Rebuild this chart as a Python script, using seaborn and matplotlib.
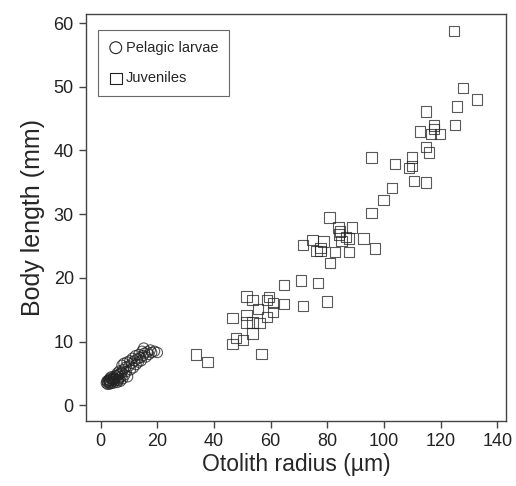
import numpy as np
import pandas as pd
import seaborn as sns
import matplotlib
matplotlib.use("Agg")
import matplotlib.pyplot as plt

# Juveniles (otolith radius µm, body length mm)
juv_radio = [124.8, 127.9, 132.7, 125.7, 114.8, 125.0, 117.7, 117.7, 112.7, 116.5,
             119.8, 114.8, 115.8, 95.6, 109.8, 103.9, 109.8, 108.8, 110.6, 114.8,
             102.7, 99.8, 95.6, 80.8, 83.9, 88.6, 84.5, 84.2, 86.6, 87.7,
             92.7, 85.0, 74.8, 78.6, 71.5, 77.6, 77.6, 76.2, 82.7, 87.7,
             96.7, 80.9, 70.7, 76.7, 64.7, 71.3, 79.8, 64.7, 51.5, 53.6,
             59.5, 58.8, 60.7, 60.7, 55.6, 58.8, 46.5, 51.5, 51.5, 53.6,
             56.0, 53.6, 47.7, 50.3, 46.5, 56.8, 33.6, 37.7]
juv_largo = [58.8, 49.8, 48.0, 46.9, 46.1, 44.0, 43.9, 43.4, 43.0, 42.6,
             42.6, 40.5, 39.7, 38.9, 38.9, 37.9, 37.6, 37.3, 35.2, 35.0,
             34.1, 32.2, 30.2, 29.5, 27.9, 27.9, 27.3, 26.8, 26.4, 26.2,
             26.2, 25.8, 26.0, 25.7, 25.2, 24.7, 24.2, 24.2, 24.1, 24.1,
             24.6, 22.3, 19.6, 19.2, 18.9, 15.6, 16.3, 15.9, 17.1, 16.5,
             17.0, 16.5, 16.1, 14.7, 15.1, 13.9, 13.7, 14.2, 13.0, 13.0,
             12.9, 11.3, 10.6, 10.3, 9.6, 8.1, 8.0, 6.8]

# Pelagic larvae
larv_radio = [2.0, 2.2, 2.5, 2.8, 3.0, 3.2, 3.5, 3.7, 4.0, 4.2,
              4.5, 4.6, 5.0, 5.2, 5.5, 5.8, 6.0, 6.2, 6.5, 6.8,
              7.0, 7.2, 7.5, 7.5, 7.8, 8.0, 8.2, 8.5, 8.8, 9.0,
              9.3, 9.5, 10.0, 10.3, 10.5, 11.0, 11.2, 11.5, 12.0, 12.3,
              12.5, 13.0, 13.3, 13.5, 14.0, 14.3, 14.6, 15.0, 15.2, 15.5,
              16.0, 16.5, 17.0, 17.5, 18.0, 19.0, 20.0, 2.4, 3.3, 4.4,
              5.3, 6.3, 3.8, 2.9, 4.8, 5.9, 6.6, 3.1]
larv_largo = [3.5, 3.8, 3.3, 4.0, 3.6, 3.9, 3.4, 4.2, 3.7, 4.0,
              3.5, 4.4, 3.8, 4.2, 4.6, 3.6, 4.0, 4.8, 4.3, 5.0,
              3.8, 4.5, 5.2, 6.3, 4.2, 5.6, 6.6, 4.8, 6.0, 5.3,
              6.8, 4.5, 6.2, 7.0, 5.6, 6.6, 7.4, 5.9, 7.0, 7.8,
              6.4, 7.3, 6.8, 8.0, 7.5, 7.0, 8.5, 7.8, 9.0, 8.2,
              7.6, 8.4, 8.0, 8.7, 8.3, 8.5, 8.3, 3.7, 4.3, 4.1,
              4.7, 3.9, 4.5, 3.9, 4.1, 5.1, 5.4, 3.4]

df = pd.concat([
    pd.DataFrame({"radio": larv_radio, "largo": larv_largo, "grupo": "Pelagic larvae"}),
    pd.DataFrame({"radio": juv_radio, "largo": juv_largo, "grupo": "Juveniles"}),
])

sns.set_theme(style="ticks")
plt.rcParams['font.family'] = ['Liberation Sans', 'DejaVu Sans']

fig = plt.figure(figsize=(5.16, 4.86), dpi=100)
ax = fig.add_axes([0.166, 0.133, 0.815, 0.838])

marcadores = {"Pelagic larvae": "o", "Juveniles": "s"}
for grupo, m in marcadores.items():
    sub = df[df["grupo"] == grupo]
    sns.scatterplot(
        data=sub, x="radio", y="largo", ax=ax,
        marker=m, s=55, facecolor="none", edgecolor="#222222",
        linewidth=0.8, alpha=0.75, label=grupo,
    )

ax.set_xlim(-5.3, 143.1)
ax.set_ylim(-2.5, 61.4)
ax.set_xticks(range(0, 141, 20))
ax.set_yticks(range(0, 61, 10))
ax.set_xlabel("Otolith radius (µm)", fontsize=16.5, labelpad=2)
ax.set_ylabel("Body length (mm)", fontsize=18, labelpad=6)
ax.tick_params(axis='both', labelsize=13, length=5, width=1, color="#444444",
               labelcolor="#222222")

for lado in ax.spines.values():
    lado.set_color("#444444")
    lado.set_linewidth(1)

leg = ax.legend(loc="upper left", bbox_to_anchor=(0.03, 0.962), fontsize=10.5,
                frameon=True, fancybox=False, edgecolor="#444444",
                labelspacing=1.15, handletextpad=0.25, borderpad=0.75,
                handlelength=0.9, borderaxespad=0, markerscale=1.15)
leg.get_frame().set_linewidth(0.8)
for h in leg.legend_handles:
    h.set_alpha(1)

fig.savefig("out.png", dpi=100)
